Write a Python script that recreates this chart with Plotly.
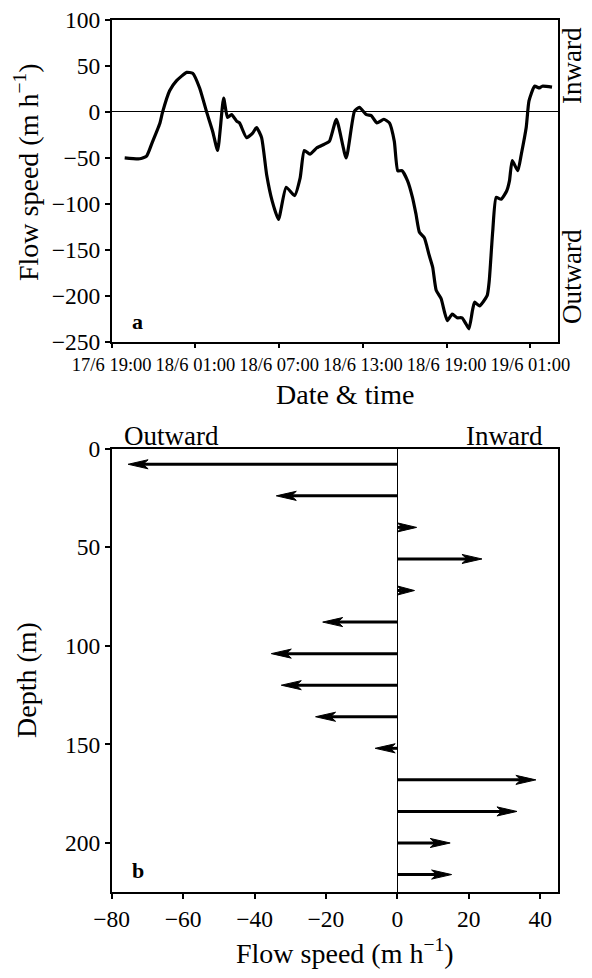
import plotly.graph_objects as go

# ---------- Panel a: time series ----------
hours = [0.93, 2.0, 2.5, 2.86, 3.44, 3.65, 4.15, 4.65, 5.37, 5.8, 6.3, 6.8, 7.23, 7.59,
         8.02, 8.3, 8.59, 8.95, 9.16, 9.66, 10.1, 10.38, 10.74, 11.1, 11.5, 11.95, 12.5,
         13.1, 13.5, 13.8, 14.2, 14.7, 15.25, 15.6, 16.1, 16.8, 17.4, 17.75, 18.25, 18.6,
         19.0, 19.5, 19.9, 20.25, 20.5, 20.8, 21.2, 21.55, 21.8, 22.05, 22.4, 22.75, 23.0,
         23.25, 23.6, 23.85, 24.05, 24.4, 24.75, 25.1, 25.4, 25.6, 25.85, 26.0, 26.35,
         26.9, 27.05, 27.3, 27.55, 27.9, 28.3, 28.5, 28.7, 29.1, 29.35, 29.7, 29.9, 30.3,
         30.65, 30.85, 31.55]
flow = [-50, -51, -48, -35, -13, 0, 23, 34, 43, 42, 26, 0, -21, -42,
        15, -6, -3, -10, -12, -28, -23, -17, -28, -68, -97, -117, -82,
        -91, -72, -42, -46, -39, -35, -32, -8, -50, 1, 5, -3, -4,
        -12, -8, -12, -32, -64, -64, -75, -93, -111, -131, -137, -156, -169,
        -194, -203, -218, -227, -220, -224, -224, -231, -236, -216, -207, -211,
        -200, -184, -130, -93, -95, -86, -75, -53, -64, -46, -17, 12, 28,
        26, 28, 27]
time_tickvals = [0, 6, 12, 18, 24, 30]
time_ticktext = ["17/6 19:00", "18/6 01:00", "18/6 07:00", "18/6 13:00", "18/6 19:00", "19/6 01:00"]
flow_tickvals = [100, 50, 0, -50, -100, -150, -200, -250]

# ---------- Panel b: depth profile ----------
depths = [8, 24, 40, 56, 72, 88, 104, 120, 136, 152, 168, 184, 200, 216]
speeds = [-75.4, -33.9, 5.4, 23.7, 4.8, -20.9, -35.3, -32.5, -22.9, -6.2, 38.8, 33.5, 14.8, 15.2]
speed_tickvals = [-80, -60, -40, -20, 0, 20, 40]
depth_tickvals = [0, 50, 100, 150, 200]

FONT = "Liberation Serif, Times New Roman, serif"
# page has an 8px body margin; figure sized to fit the 592x978 window
OFF = 8
W, H = 584, 962

def px(x):
    return (x - OFF) / W

def py(y):
    return 1 - (y - OFF) / H

fig = go.Figure()

fig.add_trace(go.Scatter(x=hours, y=flow, mode="lines",
                         line=dict(color="black", width=3.2, shape="spline", smoothing=0.5),
                         xaxis="x", yaxis="y", showlegend=False))

# arrows: shafts and heads computed from data
HEAD_L = 5.6   # head length in speed units
HEAD_W = 2.3   # head half-width in depth units
shaft_x, shaft_y, head_x, head_y = [], [], [], []
for d, v in zip(depths, speeds):
    s = 1 if v >= 0 else -1
    L = min(HEAD_L, abs(v))
    back = v - s * L
    notch = v - s * 0.75 * L
    shaft_x += [0, notch, None]
    shaft_y += [d, d, None]
    head_x += [v, back, notch, back, v, None]
    head_y += [d, d - HEAD_W, d, d + HEAD_W, d, None]

fig.add_trace(go.Scatter(x=shaft_x, y=shaft_y, mode="lines",
                         line=dict(color="black", width=3),
                         xaxis="x2", yaxis="y2", showlegend=False))
fig.add_trace(go.Scatter(x=head_x, y=head_y, mode="lines", fill="toself",
                         fillcolor="black", line=dict(color="black", width=1),
                         xaxis="x2", yaxis="y2", showlegend=False))

axis_common = dict(showline=True, linecolor="black", linewidth=1.5, mirror=True,
                   ticks="outside", ticklen=5, tickwidth=1.5, tickcolor="black",
                   showgrid=False, color="black", automargin=False, tickangle=0)

def tf(size):
    return dict(size=size, family=FONT, color="black")

TICK = 23.5
TITLE = 28

fig.update_layout(
    template="none",
    width=W, height=H,
    margin=dict(l=0, r=0, t=0, b=0, pad=0),
    paper_bgcolor="white", plot_bgcolor="white",
    font=dict(family=FONT, color="black"),
    xaxis=dict(domain=[px(111.7), px(558.3)], anchor="y", range=[0, 32],
               tickvals=time_tickvals, ticktext=time_ticktext,
               tickfont=tf(18.5), zeroline=False, **axis_common),
    yaxis=dict(domain=[py(341.7), py(20)], anchor="x", range=[-250, 100],
               tickvals=flow_tickvals, tickfont=tf(TICK),
               zeroline=True, zerolinecolor="black", zerolinewidth=1, **axis_common),
    xaxis2=dict(domain=[px(111.7), px(558)], anchor="y2", range=[-80, 45],
                tickvals=speed_tickvals, tickfont=tf(TICK),
                zeroline=True, zerolinecolor="black", zerolinewidth=1, **axis_common),
    yaxis2=dict(domain=[py(892.3), py(448.5)], anchor="x2", range=[225, 0],
                tickvals=depth_tickvals, tickfont=tf(TICK),
                zeroline=False, **axis_common),
)

def ann(text, x, y, size=27, angle=0, xanchor="center", yanchor="middle", bold=False):
    if bold:
        text = "<b>" + text + "</b>"
    fig.add_annotation(text=text, x=px(x), y=py(y), xref="paper", yref="paper",
                       showarrow=False, textangle=angle, xanchor=xanchor, yanchor=yanchor,
                       font=tf(size))

ann("Flow speed (m h<sup>−1</sup>)", 26, 172, size=TITLE, angle=-90)
ann("Date &amp; time", 345, 395, size=TITLE)
ann("Inward", 572, 66, angle=-90)
ann("Outward", 572, 277, angle=-90)
ann("a", 137, 322, size=22, bold=True)

ann("Depth (m)", 26, 680, size=TITLE, angle=-90)
ann("Flow speed (m h<sup>−1</sup>)", 345, 951, size=TITLE)
ann("Outward", 121.7, 436, xanchor="left")
ann("Inward", 545, 436, xanchor="right")
ann("b", 138, 870, size=22, bold=True)

fig.write_html("out.html")
